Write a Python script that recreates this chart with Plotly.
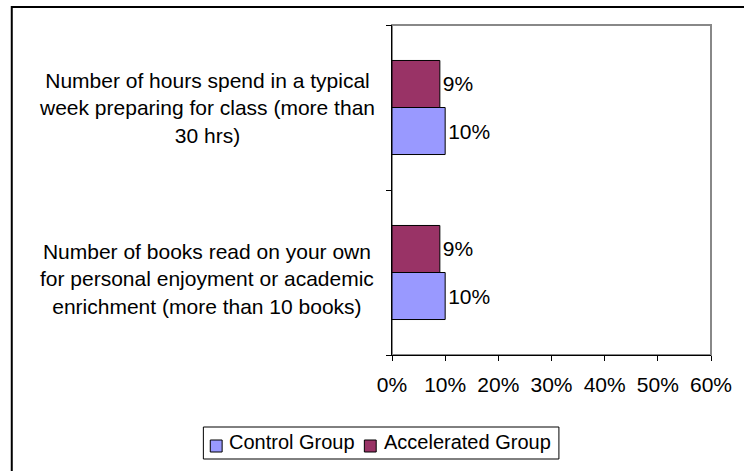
import plotly.graph_objects as go

# Survey items (bottom to top, as Excel draws them)
categories = [
    "Number of books read on your own<br>for personal enjoyment or academic<br>enrichment (more than 10 books)",
    "Number of hours spend in a typical<br>week preparing for class (more than<br>30 hrs)",
]
series_names = ["Control Group", "Accelerated Group"]
control_vals = [0.10, 0.10]
accelerated_vals = [0.09, 0.09]
x_ticks = [0, 0.1, 0.2, 0.3, 0.4, 0.5, 0.6]

FONT = "Liberation Sans, Arial, sans-serif"
COLORS = ['#9999FF', '#993366']

# plot area in pixels: x 392..715, y 25..355
L, R, T, B = 392, 715, 25, 355
def px(x):
    return (x - L) / (R - L)
def py(y):
    return (B - y) / (B - T)

fig = go.Figure()

for name, vals, col in zip(series_names, [control_vals, accelerated_vals], COLORS):
    fig.add_trace(go.Bar(
        y=categories, x=vals, orientation='h', name=name,
        marker=dict(color=col, line=dict(color='black', width=1)),
        texttemplate='%{x:.0%}', textposition='outside',
        textfont=dict(size=21, color='black'),
        cliponaxis=False, showlegend=False,
    ))

# category labels, centred multi-line text like Excel
for cat, shift in zip(categories, [-6, 0]):
    fig.add_annotation(
        x=px(205), xref='paper', y=cat, yref='y', yshift=shift,
        text=cat, showarrow=False, align='center',
        xanchor='center', yanchor='middle',
        font=dict(size=21, color='black', family=FONT),
    )

# plot area border (grey top/right) and chart area border
fig.add_shape(type='rect', xref='paper', yref='paper', x0=0, y0=0, x1=1, y1=1,
              line=dict(color='#888888', width=2), layer='below')
fig.add_shape(type='rect', xref='paper', yref='paper',
              x0=px(7), y0=py(520), x1=px(800), y1=py(7),
              line=dict(color='black', width=2))

# legend box drawn Excel-style
fig.add_shape(type='rect', xref='paper', yref='paper',
              x0=px(201), y0=py(459), x1=px(561), y1=py(427),
              line=dict(color='black', width=1), fillcolor='white')
for name, col, sx, tx in zip(series_names, COLORS, [208, 364], [225, 382]):
    fig.add_shape(type='rect', xref='paper', yref='paper',
                  x0=px(sx), y0=py(452), x1=px(sx + 12), y1=py(440),
                  line=dict(color='black', width=1), fillcolor=col)
    fig.add_annotation(x=px(tx), y=py(442), xref='paper', yref='paper',
                       text=name, showarrow=False, xanchor='left', yanchor='middle',
                       font=dict(size=20, color='black', family=FONT))

fig.update_layout(
    width=744, height=471,
    barmode='group', bargap=0.43, bargroupgap=0,
    margin=dict(l=L, r=744 - R, t=T, b=471 - B),
    plot_bgcolor='white', paper_bgcolor='white',
    font=dict(family=FONT, size=21, color='black'),
    showlegend=False,
    xaxis=dict(
        range=[0, 0.6], tickvals=x_ticks, tickformat='.0%',
        showgrid=False, zeroline=False, showline=True, linecolor='black', linewidth=1,
        ticks='outside', ticklen=5, tickcolor='black',
        tickfont=dict(size=21), ticklabelstandoff=6,
    ),
    yaxis=dict(
        showticklabels=False, showgrid=False, zeroline=False,
        showline=True, linecolor='black', linewidth=1,
        ticks='outside', ticklen=5, tickcolor='black', tickson='boundaries',
    ),
)

# page body has an 8px default margin; drop it so the figure sits at 0,0
fig.write_html("out.html", config={'displayModeBar': False},
               post_script="document.body.style.margin='0';")
